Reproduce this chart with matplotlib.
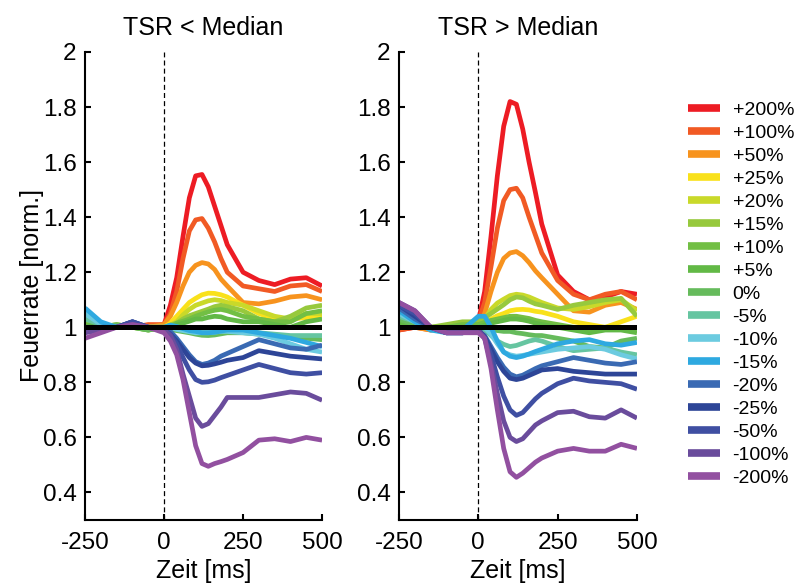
import numpy as np
import matplotlib
matplotlib.use("Agg")
import matplotlib.pyplot as plt
from matplotlib.lines import Line2D

plt.rcParams['font.family'] = ['Liberation Sans', 'DejaVu Sans']

# time grid (ms)
t = [-250, -200, -150, -100, -50, 0, 20, 40, 60, 80, 100, 120, 140, 160, 180, 200,
     250, 300, 350, 400, 450, 500]

labels = ['+200%', '+100%', '+50%', '+25%', '+20%', '+15%', '+10%', '+5%', '0%',
          '-5%', '-10%', '-15%', '-20%', '-25%', '-50%', '-100%', '-200%']
colors = ['#ED1C24', '#F15A24', '#F7931E', '#F9E11B', '#C9D92A', '#97C93D', '#72BF44',
          '#62B946', '#66BB5C', '#66C5A1', '#6CCBE0', '#2EA9E0', '#3A6AB3', '#2D4597',
          '#3F4FA2', '#6A4C9C', '#9250A0']

# TSR < Median
low = [
    [1.00, 1.00, 1.00, 1.01, 1.00, 1.01, 1.08, 1.18, 1.33, 1.47, 1.55, 1.555, 1.51, 1.44, 1.37, 1.30, 1.20, 1.17, 1.155, 1.175, 1.18, 1.15],
    [1.00, 1.01, 1.00, 1.00, 1.01, 1.01, 1.05, 1.13, 1.25, 1.35, 1.39, 1.395, 1.36, 1.31, 1.25, 1.20, 1.15, 1.14, 1.13, 1.15, 1.155, 1.13],
    [1.01, 1.00, 1.00, 1.01, 1.00, 1.01, 1.04, 1.09, 1.15, 1.20, 1.225, 1.235, 1.23, 1.21, 1.175, 1.15, 1.09, 1.085, 1.095, 1.11, 1.115, 1.10],
    [1.00, 1.01, 1.00, 1.00, 1.00, 1.00, 1.015, 1.04, 1.065, 1.09, 1.105, 1.118, 1.124, 1.123, 1.118, 1.11, 1.08, 1.05, 1.03, 1.03, 1.035, 1.04],
    [1.01, 1.00, 1.01, 1.00, 1.00, 1.00, 1.008, 1.02, 1.045, 1.065, 1.08, 1.088, 1.096, 1.10, 1.097, 1.09, 1.08, 1.06, 1.04, 1.03, 1.05, 1.05],
    [1.02, 1.01, 1.00, 1.00, 0.99, 1.00, 1.008, 1.015, 1.03, 1.042, 1.05, 1.058, 1.066, 1.075, 1.08, 1.075, 1.06, 1.03, 1.02, 1.04, 1.07, 1.08],
    [1.01, 1.00, 1.00, 1.00, 0.99, 1.00, 1.00, 1.015, 1.022, 1.03, 1.04, 1.048, 1.056, 1.062, 1.065, 1.06, 1.04, 1.03, 1.02, 1.02, 1.05, 1.06],
    [1.00, 1.01, 1.00, 1.01, 1.00, 1.00, 1.00, 1.008, 1.015, 1.022, 1.03, 1.03, 1.036, 1.04, 1.038, 1.03, 1.02, 1.02, 1.01, 1.00, 1.02, 1.03],
    [1.00, 1.00, 1.01, 1.00, 0.99, 1.00, 0.992, 0.988, 0.984, 0.98, 0.975, 0.971, 0.97, 0.972, 0.976, 0.98, 0.98, 0.975, 0.97, 0.965, 0.96, 0.955],
    [1.03, 1.01, 1.00, 1.00, 1.00, 1.00, 1.00, 0.996, 0.993, 0.99, 0.99, 0.99, 0.987, 0.985, 0.987, 0.99, 0.99, 0.98, 0.975, 0.97, 0.97, 0.97],
    [1.05, 1.01, 1.00, 1.01, 1.00, 1.00, 1.00, 0.992, 0.988, 0.984, 0.98, 0.98, 0.98, 0.982, 0.985, 0.985, 0.98, 0.975, 0.96, 0.94, 0.92, 0.91],
    [1.07, 1.02, 1.00, 1.01, 1.00, 1.00, 1.008, 1.003, 0.995, 0.988, 0.985, 0.98, 0.98, 0.982, 0.986, 0.99, 0.99, 0.98, 0.97, 0.96, 0.945, 0.93],
    [1.00, 1.00, 1.00, 1.02, 1.00, 0.995, 0.985, 0.96, 0.93, 0.90, 0.875, 0.865, 0.87, 0.88, 0.895, 0.905, 0.93, 0.955, 0.94, 0.925, 0.92, 0.935],
    [0.99, 1.00, 1.00, 1.02, 1.00, 0.99, 0.975, 0.95, 0.92, 0.89, 0.87, 0.86, 0.862, 0.867, 0.873, 0.88, 0.89, 0.915, 0.905, 0.895, 0.89, 0.885],
    [0.99, 0.99, 1.00, 1.02, 1.00, 0.99, 0.975, 0.94, 0.89, 0.845, 0.81, 0.80, 0.802, 0.808, 0.817, 0.825, 0.845, 0.865, 0.85, 0.835, 0.83, 0.835],
    [0.98, 0.99, 1.00, 1.01, 1.00, 0.99, 0.97, 0.92, 0.83, 0.75, 0.67, 0.64, 0.65, 0.68, 0.71, 0.745, 0.745, 0.745, 0.755, 0.765, 0.76, 0.735],
    [0.96, 0.98, 1.00, 1.01, 1.00, 0.98, 0.95, 0.90, 0.81, 0.69, 0.57, 0.505, 0.495, 0.505, 0.512, 0.52, 0.545, 0.59, 0.595, 0.585, 0.60, 0.59],
]

# TSR > Median
high = [
    [0.99, 1.00, 1.00, 1.00, 0.99, 1.02, 1.13, 1.33, 1.55, 1.73, 1.82, 1.81, 1.72, 1.60, 1.49, 1.375, 1.19, 1.13, 1.10, 1.11, 1.13, 1.12],
    [0.99, 1.00, 0.99, 1.00, 1.00, 1.02, 1.09, 1.22, 1.36, 1.46, 1.50, 1.505, 1.47, 1.40, 1.335, 1.27, 1.17, 1.12, 1.10, 1.12, 1.13, 1.10],
    [1.00, 1.00, 0.99, 1.00, 1.00, 1.01, 1.05, 1.13, 1.20, 1.25, 1.27, 1.275, 1.26, 1.235, 1.205, 1.18, 1.12, 1.06, 1.055, 1.08, 1.09, 1.065],
    [1.00, 1.01, 1.00, 0.99, 1.00, 1.00, 1.015, 1.03, 1.042, 1.05, 1.06, 1.064, 1.065, 1.063, 1.058, 1.055, 1.04, 1.02, 1.01, 1.00, 1.02, 1.04],
    [1.02, 1.01, 1.00, 1.00, 1.01, 1.01, 1.03, 1.065, 1.088, 1.102, 1.115, 1.12, 1.117, 1.11, 1.10, 1.09, 1.07, 1.065, 1.075, 1.09, 1.10, 1.06],
    [1.03, 1.02, 1.00, 1.01, 1.02, 1.02, 1.035, 1.05, 1.066, 1.082, 1.10, 1.11, 1.107, 1.095, 1.085, 1.08, 1.065, 1.08, 1.09, 1.10, 1.105, 1.04],
    [1.02, 1.01, 1.00, 1.00, 1.01, 1.01, 1.018, 1.025, 1.03, 1.035, 1.04, 1.04, 1.036, 1.032, 1.025, 1.02, 1.01, 1.00, 0.99, 1.00, 1.00, 0.99],
    [1.01, 1.01, 1.00, 1.00, 1.00, 1.00, 1.008, 1.015, 1.02, 1.025, 1.03, 1.03, 1.027, 1.022, 1.015, 1.01, 1.00, 0.99, 0.98, 0.99, 0.99, 0.98],
    [1.03, 1.01, 1.00, 0.99, 1.00, 1.00, 1.00, 0.993, 0.988, 0.985, 0.985, 0.98, 0.977, 0.973, 0.97, 0.97, 0.96, 0.95, 0.93, 0.925, 0.95, 0.96],
    [1.04, 1.02, 1.00, 0.99, 0.99, 1.00, 0.993, 0.97, 0.95, 0.938, 0.93, 0.934, 0.942, 0.95, 0.955, 0.95, 0.93, 0.915, 0.92, 0.925, 0.91, 0.90],
    [1.05, 1.02, 0.99, 0.99, 0.99, 1.00, 1.00, 0.975, 0.94, 0.91, 0.90, 0.895, 0.898, 0.902, 0.906, 0.91, 0.92, 0.925, 0.93, 0.92, 0.90, 0.885],
    [1.06, 1.02, 0.99, 0.98, 0.99, 1.04, 1.04, 1.00, 0.95, 0.91, 0.895, 0.89, 0.895, 0.903, 0.912, 0.92, 0.94, 0.95, 0.955, 0.94, 0.935, 0.945],
    [1.07, 1.03, 1.00, 0.98, 0.98, 0.99, 0.97, 0.93, 0.89, 0.855, 0.83, 0.82, 0.826, 0.838, 0.85, 0.86, 0.875, 0.89, 0.88, 0.87, 0.865, 0.875],
    [1.08, 1.04, 1.00, 0.98, 0.98, 0.99, 0.965, 0.92, 0.875, 0.84, 0.815, 0.81, 0.815, 0.825, 0.835, 0.845, 0.85, 0.84, 0.835, 0.83, 0.83, 0.83],
    [1.08, 1.05, 1.00, 0.98, 0.98, 0.99, 0.96, 0.90, 0.82, 0.75, 0.70, 0.68, 0.69, 0.715, 0.74, 0.76, 0.795, 0.815, 0.805, 0.80, 0.795, 0.775],
    [1.09, 1.06, 1.00, 0.98, 0.98, 0.99, 0.96, 0.87, 0.76, 0.66, 0.60, 0.585, 0.595, 0.62, 0.645, 0.66, 0.69, 0.695, 0.675, 0.67, 0.70, 0.67],
    [1.09, 1.06, 1.00, 0.98, 0.98, 0.98, 0.96, 0.85, 0.70, 0.56, 0.475, 0.455, 0.47, 0.49, 0.51, 0.525, 0.55, 0.56, 0.55, 0.55, 0.575, 0.56],
]

yticks = [0.4, 0.6, 0.8, 1.0, 1.2, 1.4, 1.6, 1.8, 2.0]
ytick_labels = ['0.4', '0.6', '0.8', '1', '1.2', '1.4', '1.6', '1.8', '2']
xticks = [-250, 0, 250, 500]
xtick_labels = ['-250', '0', '250', '500']

fig = plt.figure(figsize=(7.97, 5.84), dpi=100)
ax1 = fig.add_axes([0.1067, 0.1096, 0.2974, 0.8014])
ax2 = fig.add_axes([0.5006, 0.1096, 0.2986, 0.8014])

for ax, data, title in [(ax1, low, 'TSR < Median'), (ax2, high, 'TSR > Median')]:
    ax.plot([0, 0], [0.3, 2.0], color='black', lw=0.9, ls=(0, (4, 2.5)), zorder=1)
    for vals, c in zip(data, colors):
        ax.plot(t, vals, color=c, lw=3.4, solid_joinstyle='round', solid_capstyle='butt', zorder=2)
    ax.plot([-250, 500], [1, 1], color='black', lw=3.6, zorder=3)
    ax.set_xlim(-250, 500)
    ax.set_ylim(0.3, 2.0)
    ax.set_xticks(xticks)
    ax.set_xticklabels(xtick_labels)
    ax.set_yticks(yticks)
    ax.set_yticklabels(ytick_labels)
    ax.tick_params(direction='in', length=4, width=1.5, labelsize=17.5, pad=6)
    ax.tick_params(axis='x', pad=9)
    for s in ['top', 'right']:
        ax.spines[s].set_visible(False)
    for s in ['left', 'bottom']:
        ax.spines[s].set_linewidth(1.5)
    ax.set_title(title, fontsize=18, pad=12)
    ax.set_xlabel('Zeit [ms]', fontsize=18, labelpad=3)

ax1.set_ylabel('Feuerrate [norm.]', fontsize=18, labelpad=-1)

handles = [Line2D([], [], color=c, lw=5.5, solid_capstyle='butt') for c in colors]
fig.legend(handles, labels, loc='upper left', bbox_to_anchor=(0.863, 0.826),
           frameon=False, fontsize=14, handlelength=1.65, handletextpad=0.65,
           labelspacing=0.275, borderpad=0, borderaxespad=0)

fig.savefig('out.png', dpi=100)
